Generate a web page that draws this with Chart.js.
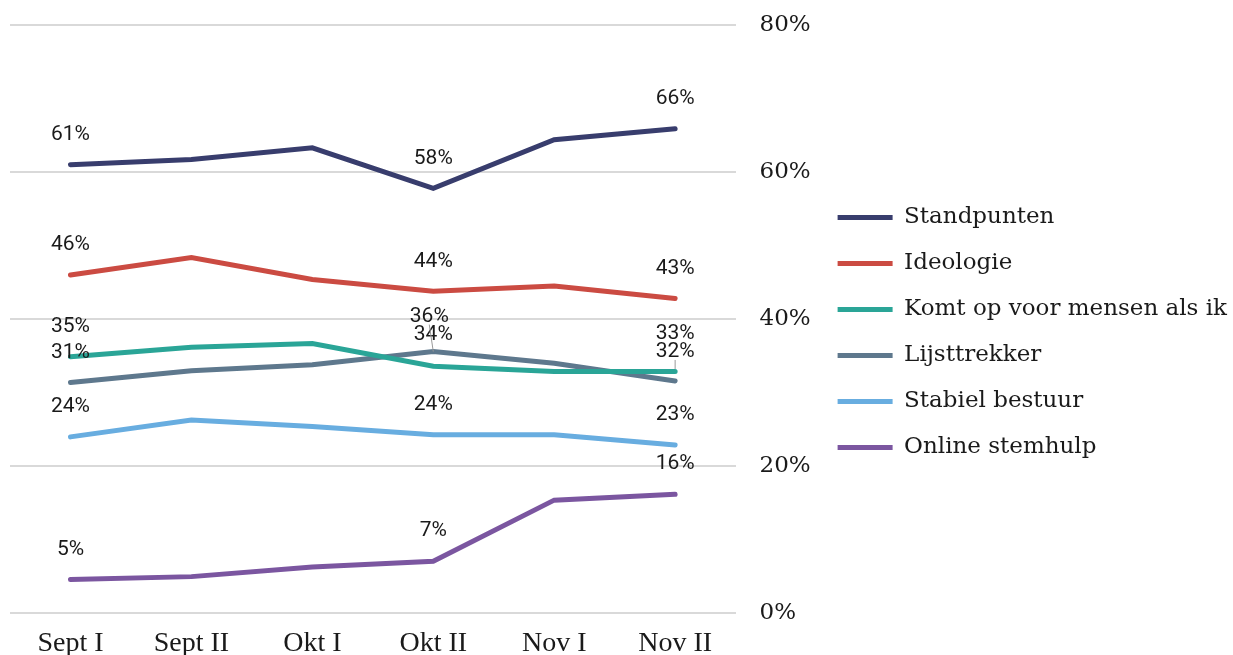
<!DOCTYPE html>
<html>
<head>
<meta charset="utf-8">
<script src="https://cdn.jsdelivr.net/npm/chart.js@4/dist/chart.umd.min.js"></script>
<style>
  html, body { margin: 0; padding: 0; background: #fff; }
  #wrap { width: 1233px; height: 655px; }
</style>
</head>
<body>
<div id="wrap"><canvas id="chart"></canvas></div>
<script>
const periods = ['Sept I', 'Sept II', 'Okt I', 'Okt II', 'Nov I', 'Nov II'];

const standpunten = [61.0, 61.7, 63.3, 57.8, 64.4, 65.9];
const ideologie = [46.0, 48.4, 45.4, 43.8, 44.5, 42.8];
const komtOp = [34.9, 36.2, 36.7, 33.6, 32.9, 32.9];
const lijsttrekker = [31.4, 33.0, 33.8, 35.6, 34.0, 31.6];
const stabielBestuur = [24.0, 26.3, 25.4, 24.3, 24.3, 22.9];
const onlineStemhulp = [4.6, 5.0, 6.3, 7.1, 15.4, 16.2];

const yTicks = [0, 20, 40, 60, 80];

// which points get a value label
const labelPoints = [0, 3, 5];

// label nudges (dataset index -> point index -> {dx, dy, leader})
const labelTweaks = {
  2: { 3: { dy: -32 }, 5: { dy: -38 } },
  3: { 3: { dx: -4, dy: -35, leader: 0 }, 5: { dy: -29, leader: -12 } }
};

const series = [
  { label: 'Standpunten', data: standpunten, color: '#383d6d' },
  { label: 'Ideologie', data: ideologie, color: '#cb4b42' },
  { label: 'Komt op voor mensen als ik', data: komtOp, color: '#2aa597' },
  { label: 'Lijsttrekker', data: lijsttrekker, color: '#5e788d' },
  { label: 'Stabiel bestuur', data: stabielBestuur, color: '#68ade0' },
  { label: 'Online stemhulp', data: onlineStemhulp, color: '#7b56a0' }
];

const valueLabels = {
  id: 'valueLabels',
  afterDatasetsDraw(chart) {
    const ctx = chart.ctx;
    ctx.save();
    ctx.font = '21px Roboto';
    ctx.fillStyle = '#1a1a1a';
    ctx.textAlign = 'center';
    ctx.textBaseline = 'middle';
    chart.data.datasets.forEach((ds, di) => {
      const meta = chart.getDatasetMeta(di);
      labelPoints.forEach(pi => {
        const pt = meta.data[pi];
        const tw = (labelTweaks[di] && labelTweaks[di][pi]) || {};
        const x = pt.x + (tw.dx || 0);
        const y = pt.y + (tw.dy !== undefined ? tw.dy : -30);
        ctx.fillText(Math.round(ds.data[pi]) + '%', x, y);
        if (tw.leader !== undefined) {
          ctx.strokeStyle = '#999';
          ctx.lineWidth = 1;
          ctx.beginPath();
          ctx.moveTo(x, y + 8);
          ctx.lineTo(pt.x, pt.y + tw.leader);
          ctx.stroke();
        }
      });
    });
    ctx.restore();
  }
};

new Chart(document.getElementById('chart'), {
  type: 'line',
  data: {
    labels: periods,
    datasets: series.map(s => ({
      label: s.label,
      data: s.data,
      borderColor: s.color,
      backgroundColor: s.color,
      borderWidth: 5,
      borderCapStyle: 'round',
      borderJoinStyle: 'miter',
      pointRadius: 0,
      pointStyle: 'line',
      tension: 0
    }))
  },
  options: {
    responsive: true,
    maintainAspectRatio: false,
    animation: false,
    layout: { padding: { left: 10, top: 0, right: -4, bottom: -10 } },
    plugins: {
      tooltip: { enabled: false },
      legend: {
        position: 'right',
        align: 'center',
        maxWidth: 440,
        labels: {
          usePointStyle: true,
          pointStyle: 'line',
          pointStyleWidth: 55,
          padding: 23,
          color: '#1a1a1a',
          font: { family: 'DejaVu Serif', size: 23 }
        }
      }
    },
    scales: {
      x: {
        offset: true,
        grid: { display: false },
        border: { display: false },
        ticks: {
          color: '#1a1a1a',
          padding: 5,
          font: { family: 'Liberation Serif', size: 28 }
        }
      },
      y: {
        position: 'right',
        min: 0,
        max: 80,
        afterBuildTicks: axis => { axis.ticks = yTicks.map(v => ({ value: v })); },
        afterFit: axis => {
          axis.width = 79;
          axis.paddingTop = 25;
          axis.paddingBottom = 0;
        },
        grid: { color: '#d9d9d9', lineWidth: 2, drawTicks: false },
        border: { display: false },
        ticks: {
          color: '#1a1a1a',
          padding: 24,
          font: { family: 'DejaVu Serif', size: 23 },
          callback: v => v + '%'
        }
      }
    }
  },
  plugins: [valueLabels]
});
</script>
</body>
</html>
